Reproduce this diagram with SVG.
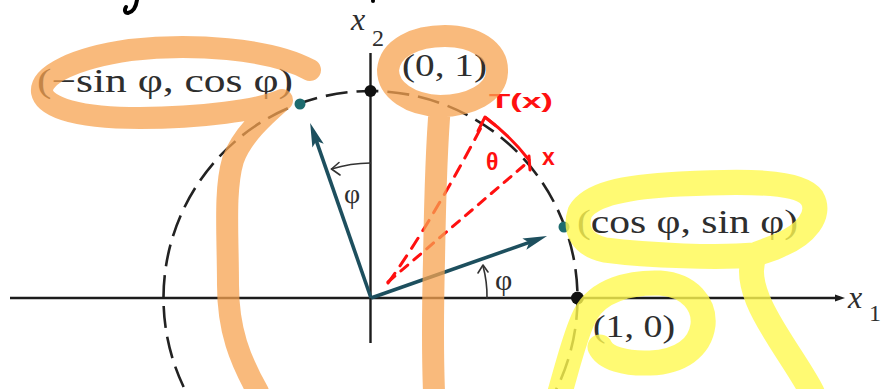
<svg xmlns="http://www.w3.org/2000/svg" width="883" height="389" viewBox="0 0 883 389">
<style>
.ax{stroke:#1c1c1c;stroke-width:2.4;fill:none}
.circ{stroke:#222;stroke-width:2.6;fill:none;stroke-dasharray:22 9}
.vec{stroke:#1d4f5e;stroke-width:3.6;fill:none}
.thin{stroke:#333;stroke-width:1.6;fill:none;stroke-linecap:round;stroke-linejoin:round}
.lbl{font-family:"Liberation Serif","Times New Roman",serif;fill:#2e2e2e}
.red{stroke:#ff1010;stroke-width:3;fill:none;stroke-linecap:round;stroke-linejoin:round}
.redt{font-family:"Liberation Sans","DejaVu Sans",sans-serif;font-weight:bold;fill:#ff1010}
.hlo{stroke:#f7a350;stroke-width:22;fill:none;stroke-linecap:round;stroke-linejoin:round}
.hly{stroke:#fff950;stroke-width:25;fill:none;stroke-linecap:round;stroke-linejoin:round}
</style>
<defs>
<marker id="tealhead" markerUnits="userSpaceOnUse" markerWidth="26" markerHeight="14" refX="12" refY="6" orient="auto">
<path d="M0,0 L24,6 L0,12 L5,6 z" fill="#1d4f5e"/>
</marker>
</defs>
<rect width="883" height="389" fill="#ffffff"/>

<g id="ink-top">
<path d="M137 0 C136 7 133 12 128 13 C125 13 124 10 126 7" stroke="#000" stroke-width="4" fill="none" stroke-linecap="round"/>
<circle cx="373" cy="1" r="2" fill="#000"/>
</g>

<g id="axes">
<line class="ax" x1="10" y1="298" x2="840" y2="298"/>
<path d="M845 298 L835 294.5 L835 301.5 z" fill="#1c1c1c"/>
<line class="ax" x1="370.5" y1="53" x2="370.5" y2="343"/>
<text class="lbl" x="351" y="30" font-size="32" font-style="italic">x</text>
<text class="lbl" x="372" y="46" font-size="24">2</text>
<text class="lbl" x="848" y="308" font-size="32" font-style="italic">x</text>
<text class="lbl" x="869" y="321" font-size="24">1</text>
</g>

<g id="unit-circle">
<circle class="circ" cx="370.5" cy="298" r="207"/>
</g>

<g id="connectors">
<line class="vec" x1="371" y1="298" x2="535.7" y2="240.1" marker-end="url(#tealhead)"/>
<line class="vec" x1="371" y1="298" x2="314.1" y2="134.3" marker-end="url(#tealhead)"/>
<path class="thin" d="M487 298 A116 116 0 0 0 483 266"/>
<path class="thin" d="M478 273 L483 265 L488 272"/>
<path class="thin" d="M370.5 163 A135 135 0 0 0 331.5 169"/>
<path class="thin" d="M339 162.5 L331.5 169 L340 175"/>
</g>

<g id="node-e1">
<circle cx="577.5" cy="298" r="6.5" fill="#111"/>
<text class="lbl" x="593" y="337" font-size="32" textLength="82" lengthAdjust="spacingAndGlyphs">(1, 0)</text>
</g>
<g id="node-e2">
<circle cx="370.5" cy="91" r="6" fill="#111"/>
<text class="lbl" x="402" y="76" font-size="32" textLength="85" lengthAdjust="spacingAndGlyphs">(0, 1)</text>
</g>
<g id="node-Te1">
<circle cx="564" cy="227" r="5.5" fill="#1d6b6e"/>
<text class="lbl" x="577" y="233" font-size="33" textLength="221" lengthAdjust="spacingAndGlyphs">(cos φ, sin φ)</text>
</g>
<g id="node-Te2">
<circle cx="300" cy="104" r="5.5" fill="#1d6b6e"/>
<text class="lbl" x="37" y="92" font-size="33" textLength="256" lengthAdjust="spacingAndGlyphs">(−sin φ, cos φ)</text>
</g>
<g id="angle-labels">
<text class="lbl" x="495" y="290" font-size="30">φ</text>
<text class="lbl" x="344" y="203" font-size="28">φ</text>
</g>

<g id="red-annotations">
<path class="red" d="M388 283 Q430 225 484 122" stroke-dasharray="12 9"/>
<path class="red" d="M388 282 L528 162" stroke-dasharray="9 8"/>
<path class="red" d="M529 160 A212 212 0 0 0 486 118"/>
<path class="red" d="M478 131 L485 117 L495 125"/>
<line class="red" x1="529" y1="156" x2="530" y2="170" stroke-width="5"/>
<text class="redt" x="489" y="108" font-size="21" textLength="64" lengthAdjust="spacingAndGlyphs">T(x)</text>
<text class="redt" x="486" y="170" font-size="23">θ</text>
<text class="redt" x="542" y="165" font-size="23">x</text>
</g>

<g id="highlights">
<path class="hlo" opacity="0.75" d="M258 392 C240 360 228 330 228 285 C228 235 224 190 233 160 C242 135 265 115 282 100 C260 110 200 118 140 118 C80 118 45 108 42 92 C40 75 75 58 130 50 C190 43 270 48 310 70"/>
<path class="hlo" opacity="0.75" d="M434 392 C432 340 433 300 434 260 C435 200 436 150 440 106 C410 105 388 90 388 70 C390 48 415 36 445 36 C475 36 498 50 497 72 C496 93 470 106 440 106"/>
<path class="hly" opacity="0.8" d="M812 392 C795 360 770 330 758 300 C750 280 750 265 755 255 C720 258 650 256 605 250 C582 245 574 230 580 212 C590 195 620 187 680 184 C740 181 800 180 812 198 C822 215 805 235 780 245 C770 250 760 252 755 255"/>
<path class="hly" opacity="0.8" d="M560 392 C568 365 575 335 585 315 C598 290 630 282 660 283 C690 285 705 305 703 325 C700 348 680 362 650 363 C625 364 605 358 600 347"/>
</g>
</svg>
